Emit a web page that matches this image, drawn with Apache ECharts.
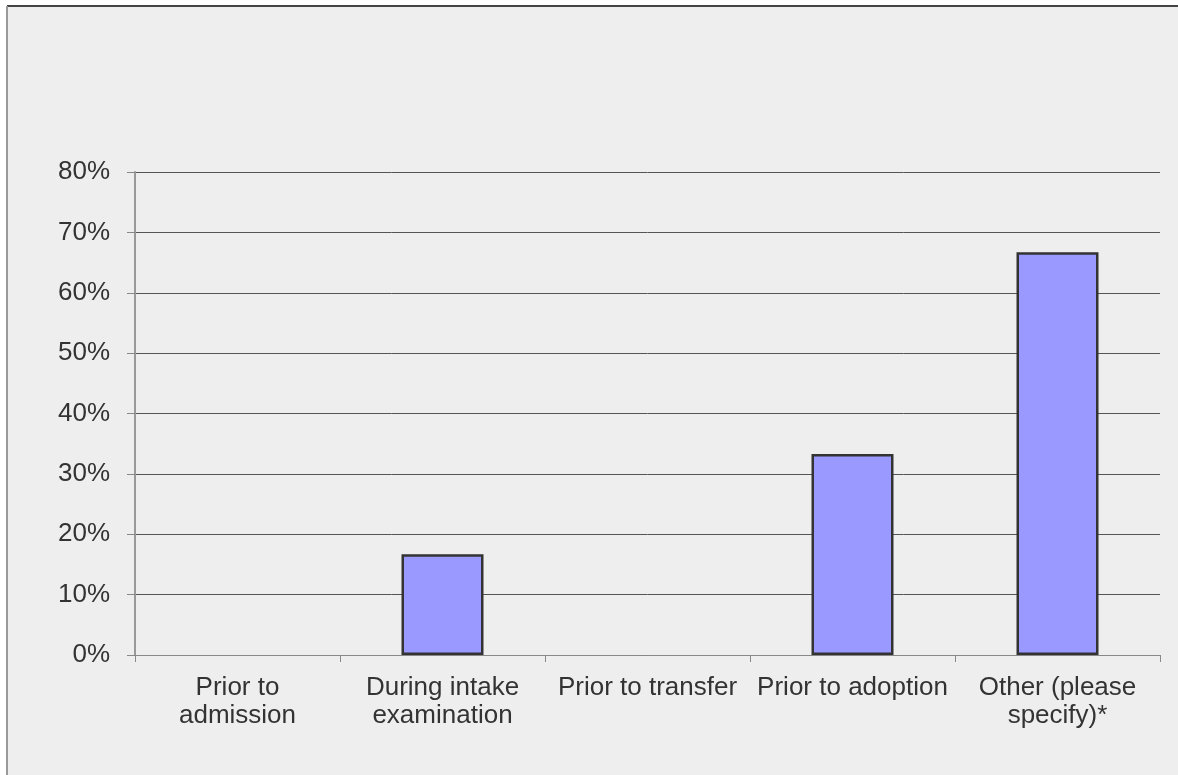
<!DOCTYPE html>
<html>
<head>
<meta charset="utf-8">
<script src="https://cdn.jsdelivr.net/npm/echarts@6/dist/echarts.min.js"></script>
<style>
html,body{margin:0;padding:0;background:#ffffff;}
#chart{width:1178px;height:775px;}
</style>
</head>
<body>
<div id="chart"></div>
<script>
var categories = ["Prior to\nadmission", "During intake\nexamination", "Prior to transfer", "Prior to adoption", "Other (please\nspecify)*"];
var values = [0, 16.7, 0, 33.3, 66.7];
var yTicks = [0, 10, 20, 30, 40, 50, 60, 70, 80];

var chart = echarts.init(document.getElementById('chart'));
chart.setOption({
  backgroundColor: '#ffffff',
  animation: false,
  textStyle: { fontFamily: 'Liberation Sans, Arial, sans-serif' },
  graphic: [
    { type: 'rect', z: -10, shape: { x: 7, y: 6, width: 1171, height: 769 }, style: { fill: '#eeeeee' } },
    { type: 'line', z: -5, shape: { x1: 7, y1: 6, x2: 1178, y2: 6 }, style: { stroke: '#444444', lineWidth: 2 } },
    { type: 'line', z: -5, shape: { x1: 7, y1: 6, x2: 7, y2: 775 }, style: { stroke: '#999999', lineWidth: 2 } }
  ],
  grid: { left: 135, right: 18, top: 172, bottom: 120, containLabel: false },
  xAxis: {
    type: 'category',
    data: categories,
    axisLine: { show: true, lineStyle: { color: '#888888', width: 1 } },
    axisTick: { show: true, length: 7, lineStyle: { color: '#888888' } },
    axisLabel: { color: '#333333', fontSize: 26, lineHeight: 28, margin: 19, interval: 0, fontFamily: 'Liberation Sans, Arial, sans-serif' }
  },
  yAxis: {
    type: 'value',
    min: yTicks[0],
    max: yTicks[yTicks.length - 1],
    interval: 10,
    axisLine: { show: true, lineStyle: { color: '#999999', width: 2 } },
    axisTick: { show: true, length: 8, lineStyle: { color: '#888888' } },
    axisLabel: { color: '#333333', fontSize: 26, margin: 25, formatter: '{value}%', fontFamily: 'Liberation Sans, Arial, sans-serif' },
    splitLine: { show: true, lineStyle: { color: '#555555', width: 1 } }
  },
  series: [{
    type: 'bar',
    data: values.map(function (v) { return v === 0 ? '-' : v; }),
    barWidth: '40%',
    itemStyle: { color: '#9999ff', borderColor: '#333333', borderWidth: 2.5 }
  }]
});
</script>
</body>
</html>
